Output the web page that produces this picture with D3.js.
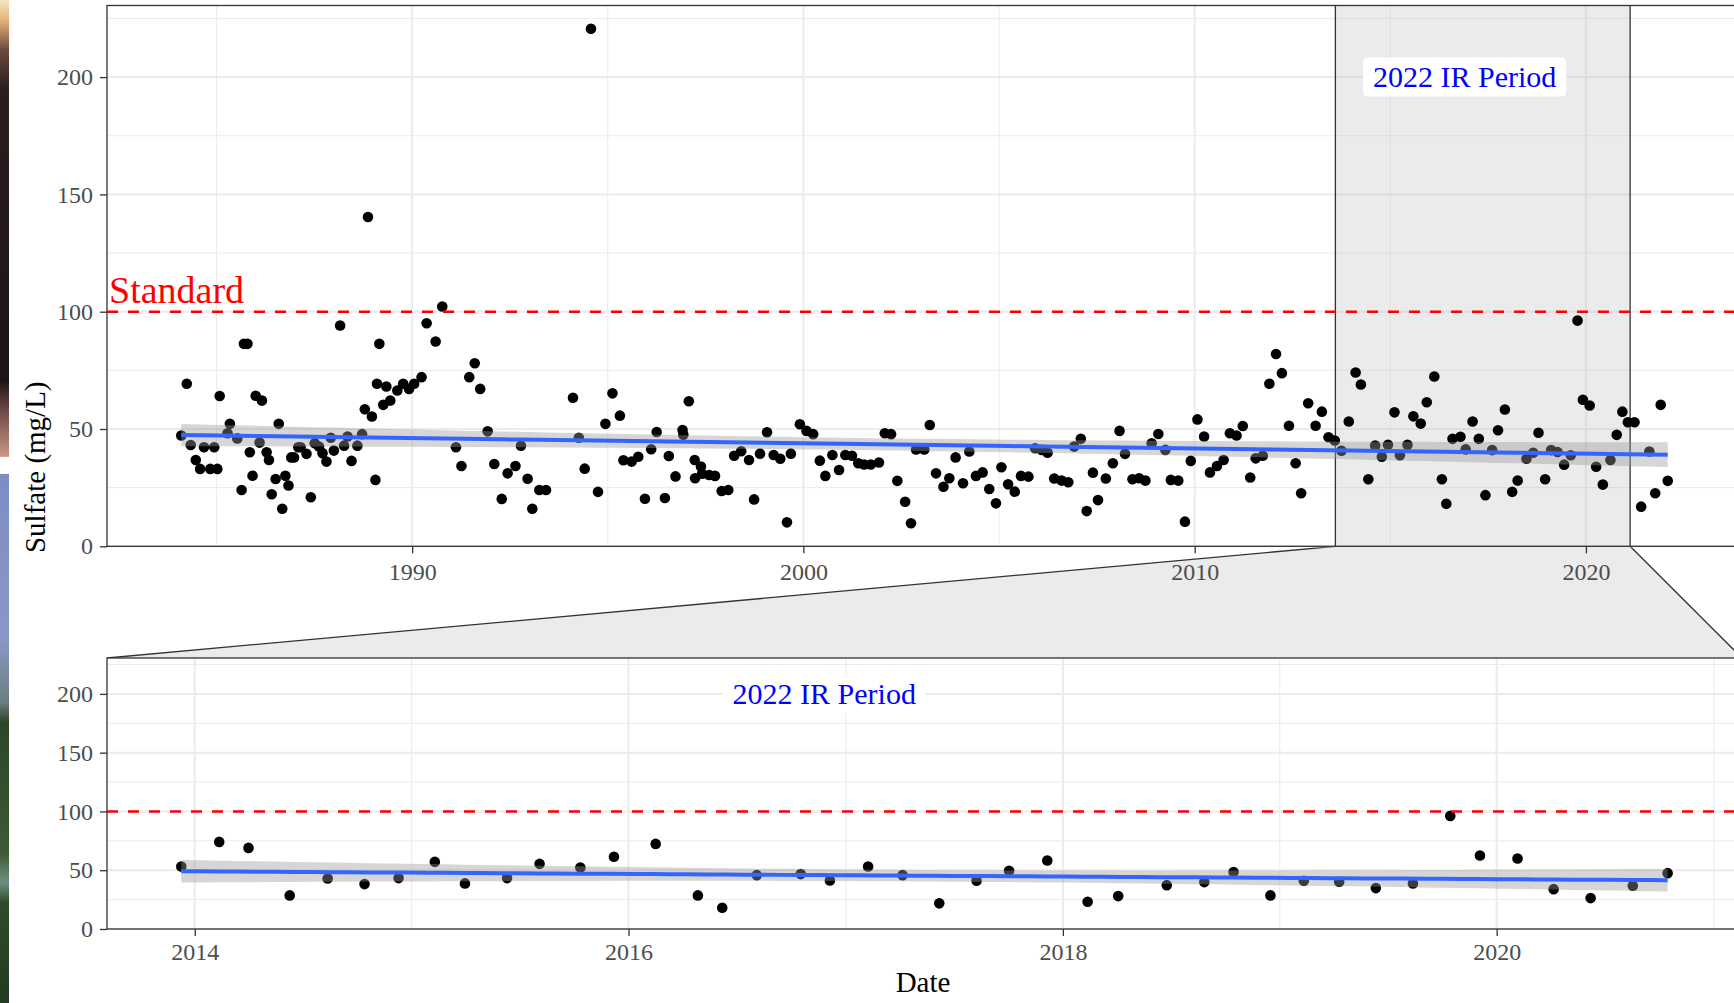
<!DOCTYPE html>
<html>
<head>
<meta charset="utf-8">
<script src="https://cdn.jsdelivr.net/npm/d3@7"></script>
<style>
  body { margin: 0; background: #fff; }
  svg { display: block; font-family: "Liberation Serif", "Times New Roman", serif; }
</style>
</head>
<body>
<div id="chart"></div>
<script>
"use strict";

// Sample dates (decimal years) and sulfate (mg/L).
// Samples before the 2022 IR period (top panel only)
const histDates = [
    1984.10, 1984.24, 1984.34, 1984.47, 1984.58, 1984.68, 1984.84, 1984.94,
    1985.02, 1985.08, 1985.28, 1985.34, 1985.53, 1985.64, 1985.70, 1985.79,
    1985.85, 1985.92, 1986.00, 1986.10, 1986.16, 1986.28, 1986.34, 1986.41,
    1986.51, 1986.59, 1986.68, 1986.76, 1986.84, 1986.91, 1986.98, 1987.09,
    1987.15, 1987.30, 1987.41, 1987.51, 1987.62, 1987.71, 1987.81, 1987.92,
    1988.00, 1988.16, 1988.26, 1988.35, 1988.45, 1988.60, 1988.72, 1988.79,
    1988.87, 1988.97, 1989.06, 1989.10, 1989.16, 1989.26, 1989.34, 1989.44,
    1989.62, 1989.77, 1989.92, 1990.05, 1990.24, 1990.37, 1990.60, 1990.77,
    1991.12, 1991.26, 1991.46, 1991.60, 1991.74, 1991.93, 1992.10, 1992.29,
    1992.44, 1992.64, 1992.78, 1992.95, 1993.07, 1993.25, 1993.42, 1994.11,
    1994.26, 1994.41, 1994.57, 1994.75, 1994.94, 1995.12, 1995.31, 1995.40,
    1995.61, 1995.78, 1995.95, 1996.11, 1996.25, 1996.46, 1996.56, 1996.73,
    1996.91, 1996.93, 1997.07, 1997.22, 1997.23, 1997.38, 1997.41, 1997.59,
    1997.74, 1997.91, 1998.08, 1998.23, 1998.41, 1998.61, 1998.74, 1998.89,
    1999.07, 1999.24, 1999.41, 1999.58, 1999.68, 1999.91, 2000.08, 2000.25,
    2000.42, 2000.56, 2000.74, 2000.91, 2001.07, 2001.24, 2001.40, 2001.55,
    2001.72, 2001.93, 2002.08, 2002.24, 2002.40, 2002.60, 2002.75, 2002.88,
    2003.09, 2003.23, 2003.39, 2003.58, 2003.73, 2003.89, 2004.08, 2004.24,
    2004.41, 2004.58, 2004.75, 2004.92, 2005.06, 2005.23, 2005.40, 2005.56,
    2005.75, 2005.92, 2006.09, 2006.24, 2006.41, 2006.60, 2006.77, 2006.92,
    2007.09, 2007.24, 2007.40, 2007.53, 2007.73, 2007.91, 2008.08, 2008.22,
    2008.41, 2008.58, 2008.74, 2008.90, 2009.07, 2009.25, 2009.39, 2009.58,
    2009.75, 2009.90, 2010.07, 2010.24, 2010.39, 2010.57, 2010.74, 2010.90,
    2011.07, 2011.23, 2011.42, 2011.56, 2011.74, 2011.91, 2012.08, 2012.23,
    2012.41, 2012.58, 2012.72, 2012.90, 2013.09, 2013.25, 2013.42, 2013.58,
    2013.75];
const histValues = [
    47.2, 69.3, 43.2, 36.8, 33.0, 42.2, 33.0, 42.2,
    33.0, 64.1, 48.2, 52.2, 46.0, 24.0, 86.3, 86.3,
    40.1, 30.1, 64.2, 44.2, 62.1, 40.1, 36.8, 22.2,
    28.7, 52.2, 16.0, 30.1, 25.9, 37.9, 37.9, 42.2,
    42.2, 39.4, 20.9, 43.9, 42.5, 39.7, 36.1, 46.3,
    40.8, 94.1, 42.9, 46.8, 36.4, 42.9, 47.8, 58.4,
    140.4, 55.3, 28.3, 69.3, 86.3, 60.3, 68.1, 62.1,
    66.4, 69.3, 67.1, 69.3, 72.1, 95.1, 87.3, 102.2,
    42.2, 34.2, 72.1, 78.0, 67.1, 49.0, 35.1, 20.2,
    31.1, 34.2, 42.9, 28.8, 16.0, 24.0, 24.0, 63.3,
    46.3, 33.1, 220.6, 23.2, 52.2, 65.2, 55.7, 36.7,
    36.1, 38.2, 20.3, 41.4, 48.7, 20.6, 38.5, 29.8,
    49.6, 47.5, 61.8, 36.8, 29.0, 34.0, 30.9, 30.4,
    30.0, 23.6, 24.0, 38.6, 40.5, 36.8, 20.0, 39.5,
    48.6, 38.9, 37.3, 10.2, 39.5, 52.0, 49.2, 47.8,
    36.5, 30.0, 38.9, 32.5, 38.9, 38.6, 35.4, 34.9,
    34.9, 35.7, 48.2, 47.8, 27.9, 19.0, 9.8, 41.3,
    41.3, 51.7, 31.1, 25.4, 29.0, 37.9, 26.9, 40.4,
    30.0, 31.5, 24.4, 18.3, 33.7, 26.4, 23.3, 30.0,
    29.7, 41.8, 41.1, 39.9, 28.9, 28.0, 27.3, 42.5,
    45.8, 15.0, 31.4, 19.7, 28.9, 35.4, 49.2, 39.4,
    28.6, 29.0, 28.0, 43.9, 47.9, 41.1, 28.3, 28.0,
    10.5, 36.4, 54.1, 46.8, 31.5, 34.2, 36.8, 48.2,
    47.2, 51.3, 29.3, 37.5, 38.6, 69.3, 82.0, 73.8,
    51.4, 35.4, 22.6, 61.0, 51.4, 57.4, 46.5, 45.1,
    40.7];

// Samples in the 2022 IR period (both panels)
const irDates = [
    2013.938, 2014.113, 2014.248, 2014.438, 2014.613, 2014.783, 2014.940,
    2015.107, 2015.246, 2015.440, 2015.590, 2015.778, 2015.933, 2016.125,
    2016.319, 2016.431, 2016.590, 2016.792, 2016.926, 2017.102, 2017.261,
    2017.430, 2017.602, 2017.752, 2017.928, 2018.114, 2018.255, 2018.479,
    2018.652, 2018.787, 2018.957, 2019.111, 2019.274, 2019.443, 2019.614,
    2019.786, 2019.923, 2020.096, 2020.262, 2020.432, 2020.626, 2020.786];
const irValues = [
    53.2, 74.1, 69.0, 28.6, 43.0, 38.2, 43.3,
    57.1, 38.8, 43.3, 55.4, 52.3, 61.4, 72.4,
    28.6, 18.1, 45.8, 46.7, 41.3, 53.2, 45.8,
    21.8, 41.0, 49.5, 58.3, 23.2, 28.0, 37.3,
    39.9, 48.4, 28.6, 41.0, 40.2, 34.8, 38.8,
    96.2, 62.5, 60.0, 33.9, 26.3, 36.8, 47.5];

// Samples after the IR period (top panel only)
const lateDates = [2020.93, 2021.07, 2021.24, 2021.41, 2021.62, 2021.77, 2021.91, 2022.09];
const lateValues = [57.4, 52.9, 52.9, 16.9, 40.4, 22.6, 60.3, 27.9];

const yMajor = [0, 50, 100, 150, 200];
const yMinor = [25, 75, 125, 175, 225];
const topYears = [1990, 2000, 2010, 2020];
const topMinorYears = [1985, 1995, 2005, 2015];
const zoomYears = [2014, 2016, 2018, 2020];
const zoomMinorYears = [2015, 2017, 2019, 2021];
const standard = 100;
const standardText = 'Standard';
const periodText = '2022 IR Period';
const labelYear = 2016.9;   // where the period label sits
const labelValue = 200;

const W = 1734, H = 1003;
const left = 107, right = 1742;  // panels run past the cropped right edge
const topBox = {top: 5.5, bottom: 546.3};
const zoomBox = {top: 658, bottom: 929};

function yearToDate(y) {
    // Decimal year -> UTC date
    let yr = Math.floor(y);
    let a = Date.UTC(yr, 0, 1), b = Date.UTC(yr + 1, 0, 1);
    return new Date(a + (y - yr) * (b - a));
}

function expand(ext) {  // ggplot's default 5% padding
    let pad = (ext[1] - ext[0]) * 0.05;
    return [ext[0] - pad, ext[1] + pad];
}

function linearFit(xs, ys) {
    // Least squares line with 95% confidence band, like geom_smooth(lm)
    let n = xs.length, mx = d3.mean(xs), my = d3.mean(ys);
    let sxx = d3.sum(xs, function (x) { return (x - mx) * (x - mx); });
    let sxy = d3.sum(xs.map(function (x, i) { return (x - mx) * (ys[i] - my); }));
    let b = sxy / sxx, a = my - b * mx;
    let sse = d3.sum(xs.map(function (x, i) { return Math.pow(ys[i] - a - b * x, 2); }));
    let s = Math.sqrt(sse / (n - 2));
    let t = 1.96 + 2.4 / (n - 2);  // close enough to qt(.975, n - 2)
    let ext = d3.extent(xs);
    return d3.range(80).map(function (i) {
        let x = ext[0] + i * (ext[1] - ext[0]) / 79;
        let fit = a + b * x;
        let se = s * Math.sqrt(1 / n + (x - mx) * (x - mx) / sxx);
        return {x: x, fit: fit, lo: fit - t * se, hi: fit + t * se};
    });
}

const allDates = histDates.concat(irDates, lateDates);
const allValues = histValues.concat(irValues, lateValues);
const topDomain = expand(d3.extent(allDates));
const zoomDomain = expand(d3.extent(irDates));
const yMax = d3.max(allValues) * 1.045;

const xTop = d3.scaleUtc().domain(topDomain.map(yearToDate)).range([left, right]);
const xZoom = d3.scaleUtc().domain(zoomDomain.map(yearToDate)).range([left, right]);
const yTop = d3.scaleLinear().domain([0, yMax]).range([topBox.bottom, topBox.top]);
const yZoom = d3.scaleLinear().domain([0, yMax]).range([zoomBox.bottom, zoomBox.top]);

const svg = d3.select('#chart').append('svg')
    .attr('width', W)
    .attr('height', H);
svg.append('rect').attr('width', W).attr('height', H).attr('fill', '#fff');

// Sliver of a photo along the left edge of the screenshot
let defs = svg.append('defs');
let photo = defs.append('linearGradient')
    .attr('id', 'photo')
    .attr('x1', 0).attr('y1', 0).attr('x2', 0).attr('y2', 1);
[[0, '#f5e6c0'], [0.02, '#e9b27a'], [0.05, '#6b4a3e'], [0.09, '#2a1d1e'],
 [0.38, '#1d1416'], [0.41, '#6f4c48'], [0.455, '#c99585'], [0.456, '#ffffff'],
 [0.472, '#ffffff'], [0.473, '#7d8dc4'], [0.64, '#8a97c6'], [0.70, '#6d7d80'],
 [0.72, '#2e4429'], [0.85, '#3d5a35'], [0.88, '#6f8f80'], [0.90, '#2f4a2a'],
 [1, '#243a22']].forEach(function (s) {
    photo.append('stop').attr('offset', s[0]).attr('stop-color', s[1]);
});
svg.append('rect').attr('x', 0).attr('y', 0).attr('width', 9).attr('height', H)
    .attr('fill', 'url(#photo)');

// Zoom connector between the shaded period and the lower panel
let z0 = xTop(yearToDate(zoomDomain[0])), z1 = xTop(yearToDate(zoomDomain[1]));
svg.append('path')
    .attr('d', 'M' + z0 + ',' + topBox.bottom + 'L' + z1 + ',' + topBox.bottom +
        'L' + right + ',' + zoomBox.top + 'L' + left + ',' + zoomBox.top + 'Z')
    .attr('fill', '#ebebeb');
[[z0, left], [z1, right]].forEach(function (p) {
    svg.append('line')
        .attr('x1', p[0]).attr('y1', topBox.bottom)
        .attr('x2', p[1]).attr('y2', zoomBox.top)
        .attr('stroke', '#333').attr('stroke-width', 1.3);
});

function drawPanel(opts) {
    let x = opts.x, y = opts.y, box = opts.box;
    let g = svg.append('g');
    g.append('rect')
        .attr('x', left).attr('y', box.top)
        .attr('width', right - left).attr('height', box.bottom - box.top)
        .attr('fill', '#fff');

    // Grid: minor first, then major
    g.selectAll('line.ymin').data(yMinor).enter().append('line')
        .attr('x1', left).attr('x2', right)
        .attr('y1', function (d) { return y(d); }).attr('y2', function (d) { return y(d); })
        .attr('stroke', '#ebebeb').attr('stroke-width', 1);
    g.selectAll('line.xmin').data(opts.minorYears).enter().append('line')
        .attr('y1', box.top).attr('y2', box.bottom)
        .attr('x1', function (d) { return x(yearToDate(d)); })
        .attr('x2', function (d) { return x(yearToDate(d)); })
        .attr('stroke', '#ebebeb').attr('stroke-width', 1);
    g.selectAll('line.ymaj').data(yMajor).enter().append('line')
        .attr('x1', left).attr('x2', right)
        .attr('y1', function (d) { return y(d); }).attr('y2', function (d) { return y(d); })
        .attr('stroke', '#ebebeb').attr('stroke-width', 2);
    g.selectAll('line.xmaj').data(opts.majorYears).enter().append('line')
        .attr('y1', box.top).attr('y2', box.bottom)
        .attr('x1', function (d) { return x(yearToDate(d)); })
        .attr('x2', function (d) { return x(yearToDate(d)); })
        .attr('stroke', '#ebebeb').attr('stroke-width', 2);

    if (opts.shade) {  // Mark the zoomed period
        let s0 = x(yearToDate(zoomDomain[0])), s1 = x(yearToDate(zoomDomain[1]));
        g.append('rect')
            .attr('x', s0).attr('y', box.top)
            .attr('width', s1 - s0).attr('height', box.bottom - box.top)
            .attr('fill', '#bdbdbd').attr('fill-opacity', 0.3);
        [s0, s1].forEach(function (sx) {
            g.append('line')
                .attr('x1', sx).attr('x2', sx).attr('y1', box.top).attr('y2', box.bottom)
                .attr('stroke', '#333').attr('stroke-width', 1.3);
        });
    }

    g.selectAll('circle').data(opts.dates).enter().append('circle')
        .attr('cx', function (d) { return x(yearToDate(d)); })
        .attr('cy', function (d, i) { return y(opts.values[i]); })
        .attr('r', 5.3)
        .attr('fill', '#000');

    let fit = linearFit(opts.dates, opts.values);
    g.append('path')
        .datum(fit)
        .attr('d', d3.area()
            .x(function (d) { return x(yearToDate(d.x)); })
            .y0(function (d) { return y(d.lo); })
            .y1(function (d) { return y(d.hi); }))
        .attr('fill', '#999').attr('fill-opacity', 0.4);
    g.append('path')
        .datum(fit)
        .attr('d', d3.line()
            .x(function (d) { return x(yearToDate(d.x)); })
            .y(function (d) { return y(d.fit); }))
        .attr('fill', 'none')
        .attr('stroke', '#3366ff')
        .attr('stroke-width', 4);

    g.append('line')  // Water quality standard
        .attr('x1', left).attr('x2', right)
        .attr('y1', y(standard)).attr('y2', y(standard))
        .attr('stroke', 'red').attr('stroke-width', 2.5)
        .attr('stroke-dasharray', '11,10');

    if (opts.standardLabel) {
        g.append('text')
            .attr('x', left + 2)
            .attr('y', y(standard) - 9)
            .style('font-size', '38px')
            .attr('fill', 'red')
            .text(standardText);
    }

    // Period label with a white rounded box behind it
    let lab = g.append('g');
    let box2 = lab.append('rect').attr('fill', '#fff').attr('rx', 5);
    let txt = lab.append('text')
        .attr('x', x(yearToDate(labelYear)))
        .attr('y', y(labelValue))
        .attr('dy', '0.33em')
        .attr('text-anchor', 'middle')
        .style('font-size', '30px')
        .attr('fill', 'blue')
        .text(periodText);
    let bb = txt.node().getBBox();
    box2.attr('x', bb.x - 10).attr('y', y(labelValue) - 19.5)
        .attr('width', bb.width + 20).attr('height', 39);

    g.append('rect')  // Panel border
        .attr('x', left).attr('y', box.top)
        .attr('width', right - left).attr('height', box.bottom - box.top)
        .attr('fill', 'none').attr('stroke', '#333').attr('stroke-width', 1.3);

    // Axes
    let ya = svg.append('g')
        .attr('transform', 'translate(' + left + ',0)')
        .call(d3.axisLeft(y).tickValues(yMajor).tickSize(7).tickPadding(7));
    let xa = svg.append('g')
        .attr('transform', 'translate(0,' + box.bottom + ')')
        .call(d3.axisBottom(x)
            .tickValues(opts.majorYears.map(yearToDate))
            .tickFormat(d3.utcFormat('%Y'))
            .tickSize(7).tickPadding(opts.xPad));
    [ya, xa].forEach(function (a) {
        a.attr('font-family', null).attr('font-size', null);
        a.select('.domain').remove();
        a.selectAll('.tick line').attr('stroke', '#333').attr('stroke-width', 1.3);
        a.selectAll('.tick text').attr('fill', '#4d4d4d').style('font-size', '24px');
    });
}

drawPanel({x: xTop, y: yTop, box: topBox,
    dates: allDates, values: allValues,
    majorYears: topYears, minorYears: topMinorYears,
    shade: true, standardLabel: true, xPad: 10});
drawPanel({x: xZoom, y: yZoom, box: zoomBox,
    dates: irDates, values: irValues,
    majorYears: zoomYears, minorYears: zoomMinorYears,
    shade: false, standardLabel: false, xPad: 7});

// Axis titles
svg.append('text')
    .attr('transform', 'translate(45,' + (topBox.top + zoomBox.bottom) / 2 + ') rotate(-90)')
    .attr('text-anchor', 'middle')
    .style('font-size', '29px')
    .attr('fill', '#000')
    .text('Sulfate (mg/L)');
svg.append('text')
    .attr('x', 923)
    .attr('y', 992)
    .attr('text-anchor', 'middle')
    .style('font-size', '29px')
    .attr('fill', '#000')
    .text('Date');
</script>
</body>
</html>
